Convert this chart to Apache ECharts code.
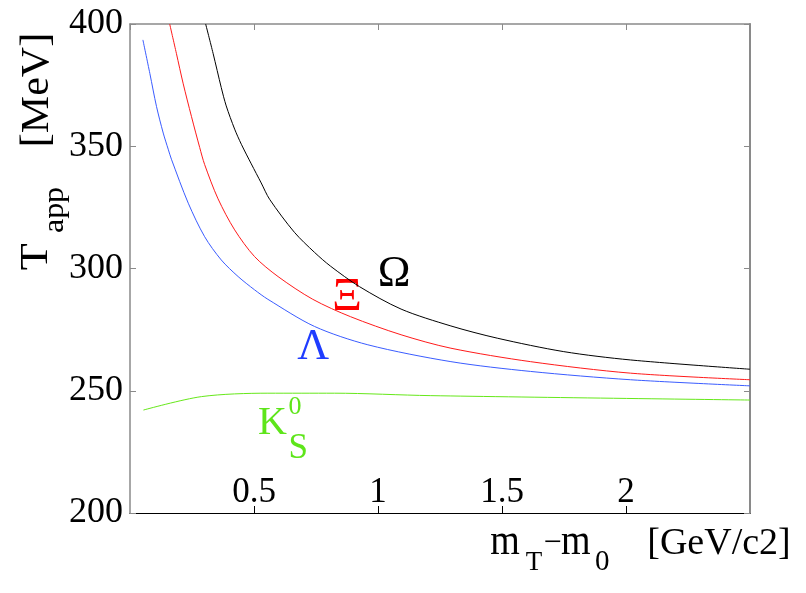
<!DOCTYPE html>
<html>
<head>
<meta charset="utf-8">
<script src="https://cdn.jsdelivr.net/npm/echarts@6/dist/echarts.min.js"></script>
<style>html,body{margin:0;padding:0;background:#fff}#c{width:806px;height:593px}</style>
</head>
<body>
<div id="c"></div>
<script>
// Data
var xTicks = [0, 0.5, 1, 1.5, 2, 2.5];
var yTicks = [200, 250, 300, 350, 400];

var lambdaX = [0.052, 0.080, 0.107, 0.134, 0.154, 0.167, 0.235, 0.301, 0.368, 0.436, 0.502, 0.556, 0.744, 0.959, 1.294, 1.615, 2.018, 2.500];
var lambdaY = [393.5, 379.8, 366.2, 355.4, 348.8, 344.7, 326.7, 313.0, 303.5, 296.7, 291.3, 287.4, 276.3, 268.8, 261.9, 257.9, 254.5, 252.0];

var xiX = [0.160, 0.187, 0.214, 0.248, 0.281, 0.301, 0.355, 0.422, 0.502, 0.597, 0.737, 0.889, 1.093, 1.294, 1.615, 2.018, 2.500];
var xiY = [400.0, 388.0, 375.8, 362.1, 349.5, 342.5, 328.5, 315.8, 304.9, 296.7, 287.4, 280.3, 272.9, 267.4, 261.9, 257.2, 254.5];

var omegaX = [0.305, 0.335, 0.368, 0.388, 0.422, 0.449, 0.489, 0.529, 0.563, 0.663, 0.744, 0.808, 0.925, 1.093, 1.294, 1.481, 1.749, 2.018, 2.500];
var omegaY = [400.0, 388.0, 374.0, 366.5, 357.0, 350.8, 342.8, 335.0, 328.3, 314.8, 306.6, 301.0, 292.6, 283.4, 276.5, 271.5, 266.0, 262.6, 258.8];

var k0X = [0.054, 0.288, 0.556, 0.824, 1.213, 2.500];
var k0Y = [242.1, 247.6, 249.0, 249.0, 248.0, 246.2];

function pairs(xs, ys) { return xs.map(function (x, i) { return [x, ys[i]]; }); }

var SERIF = 'Liberation Serif';
var GRAY = '#8a8a8a';

function lineSeries(name, xs, ys, color) {
  return {
    name: name, type: 'line', data: pairs(xs, ys),
    showSymbol: false, smooth: 0.3, clip: true,
    lineStyle: { color: color, width: 1 }, itemStyle: { color: color },
    silent: true, animation: false
  };
}

function txt(text, x, y, size, color, opts) {
  opts = opts || {};
  return {
    type: 'text', x: x, y: y,
    rotation: opts.rotation || 0,
    scaleX: opts.scaleX || 1, scaleY: opts.scaleY || 1,
    silent: true,
    style: {
      text: text, fill: color,
      fontFamily: SERIF, fontSize: size,
      align: 'center', verticalAlign: 'middle'
    }
  };
}

var chart = echarts.init(document.getElementById('c'), null, { renderer: 'canvas' });
var R = Math.PI / 2;
chart.setOption({
  animation: false,
  backgroundColor: '#fff',
  grid: { left: 130, right: 56, top: 24, bottom: 80, containLabel: false },
  xAxis: [
    {
      type: 'value', position: 'bottom', min: xTicks[0], max: xTicks[xTicks.length - 1],
      interval: xTicks[1] - xTicks[0],
      axisLine: { show: true, onZero: false, lineStyle: { color: '#000', width: 1 } },
      axisTick: { show: true, inside: true, length: 7, lineStyle: { color: '#000', width: 1 } },
      axisLabel: {
        inside: true, margin: 3, showMinLabel: false, showMaxLabel: false,
        color: '#000', fontFamily: SERIF, fontSize: 35,
        formatter: function (v) { return String(v); }
      },
      splitLine: { show: false }
    },
    {
      type: 'value', position: 'top', min: xTicks[0], max: xTicks[xTicks.length - 1],
      interval: xTicks[1] - xTicks[0],
      axisLine: { show: true, onZero: false, lineStyle: { color: GRAY, width: 1.5 } },
      axisTick: { show: true, inside: true, length: 6, lineStyle: { color: GRAY, width: 1 } },
      axisLabel: { show: false }, splitLine: { show: false }
    }
  ],
  yAxis: [
    {
      type: 'value', position: 'left', min: yTicks[0], max: yTicks[yTicks.length - 1],
      interval: yTicks[1] - yTicks[0],
      axisLine: { show: true, onZero: false, lineStyle: { color: GRAY, width: 1.5 } },
      axisTick: { show: true, inside: true, length: 6, lineStyle: { color: GRAY, width: 1 } },
      axisLabel: { margin: 7, color: '#000', fontFamily: SERIF, fontSize: 36 },
      splitLine: { show: false }
    },
    {
      type: 'value', position: 'right', min: yTicks[0], max: yTicks[yTicks.length - 1],
      interval: yTicks[1] - yTicks[0],
      axisLine: { show: true, onZero: false, lineStyle: { color: GRAY, width: 2 } },
      axisTick: { show: true, inside: true, length: 6, lineStyle: { color: GRAY, width: 1 } },
      axisLabel: { show: false }, splitLine: { show: false }
    }
  ],
  series: [
    lineSeries('Λ', lambdaX, lambdaY, '#3a5cff'),
    lineSeries('Ξ', xiX, xiY, '#ff1a1a'),
    lineSeries('Ω', omegaX, omegaY, '#000000'),
    lineSeries('K0S', k0X, k0Y, '#66e81a')
  ],
  graphic: [
    // y-axis title  T_app [MeV]
    txt('T', 36, 256.7, 40, '#000', { rotation: R, scaleX: 1.1 }),
    txt('app', 55, 210, 29, '#000', { rotation: R, scaleX: 1.1 }),
    txt('[MeV]', 37, 90, 40, '#000', { rotation: R, scaleX: 1.05 }),
    // x-axis title  m_T − m_0 [GeV/c2]
    txt('m', 505, 543, 38, '#000', { scaleY: 1.15 }),
    txt('T', 534, 563.4, 27, '#000'),
    txt('\u2212', 552.5, 544, 32, '#000'),
    txt('m', 575.8, 543, 38, '#000', { scaleY: 1.15 }),
    txt('0', 602.3, 562.8, 29, '#000'),
    txt('[GeV/c2]', 719, 543.6, 38, '#000'),
    // particle labels
    txt('\u03A9', 394, 274.4, 44, '#000'),
    txt('\u039E', 347, 298, 46, '#ff0000'),
    txt('\u039B', 313.3, 347, 44, '#1f3cff'),
    txt('K', 272.5, 423.5, 40, '#5ee51a'),
    txt('0', 295, 406.7, 26, '#5ee51a'),
    txt('S', 298.3, 448.8, 35, '#5ee51a')
  ]
});
</script>
</body>
</html>
